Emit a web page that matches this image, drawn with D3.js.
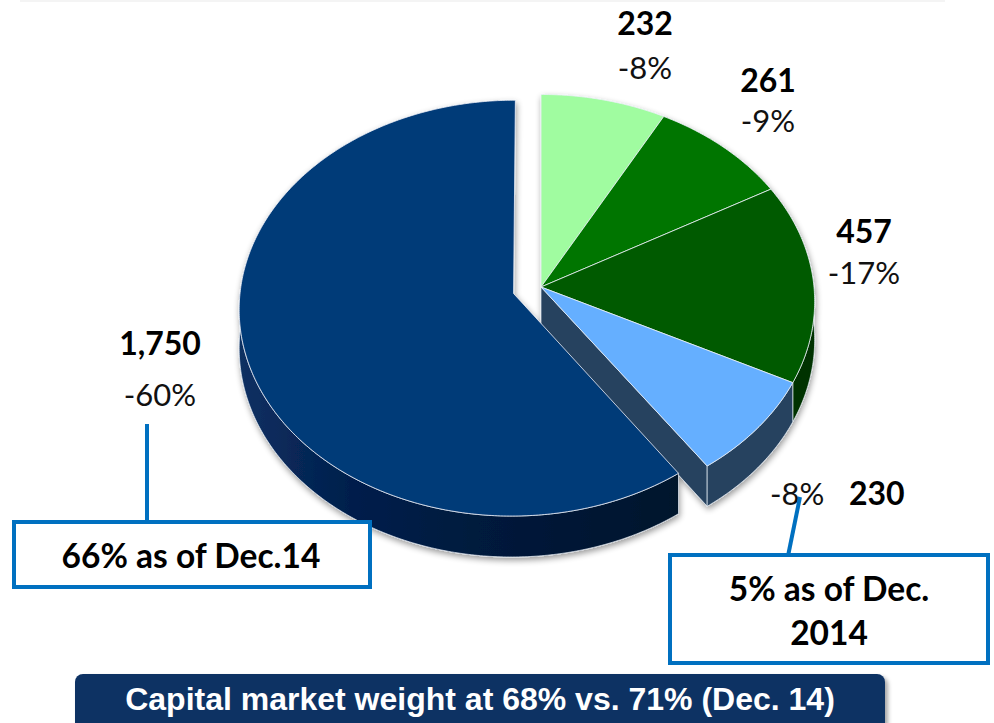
<!DOCTYPE html>
<html>
<head>
<meta charset="utf-8">
<script src="https://cdn.jsdelivr.net/npm/d3@7/dist/d3.min.js"></script>
<style>
  body { margin: 0; background: #fff; }
  svg { display: block; }
  .num { font-family: Lato, "Open Sans", sans-serif; font-weight: 700; font-size: 32px; fill: #000; }
  .chg { font-family: Lato, "Open Sans", sans-serif; font-weight: 400; font-size: 31px; fill: #111; }
  .box-text { font-family: Lato, "Open Sans", sans-serif; font-weight: 700; font-size: 33.5px; fill: #000; }
  .banner-text { font-family: "Liberation Sans", Arial, sans-serif; font-weight: 700; font-size: 32px; fill: #fff; }
</style>
</head>
<body>
<div id="chart"></div>
<script>
// slices clockwise from 12 o'clock
const values = [232, 261, 457, 230, 1750];
const valueLabels = ["232", "261", "457", "230", "1,750"];
const changeLabels = ["-8%", "-9%", "-17%", "-8%", "-60%"];
const exploded = [false, false, false, false, true];
const calloutLeft = ["66% as of Dec.14"];
const calloutRight = ["5% as of Dec.", "2014"];
const bannerText = "Capital market weight at 68% vs. 71% (Dec. 14)";

// styles
const topColors = ["#a0fca0", "#007500", "#005a00", "#65afff", "#063a78"];
const wallColors = ["#5f9f5f", "#004a00", "#003300", "#26425f", "url(#navyWall)"];
const faceColors = ["#5f9f5f", "#004a00", "#003300", "#26425f", "#001a3d"];

// layout
const W = 994, H = 723;
const cx = 541, cy = 287, rx = 273, ry = 206, persp = 0.07, depth = 38, pull = 0.105;
// [x, baseline of number, baseline of change]
const labelPos = [[645, 35, 79], [768, 92, 132], [864, 243, 284], null, [160, 355, 406]];

const svg = d3.select("#chart").append("svg")
    .attr("width", W)
    .attr("height", H);

const defs = svg.append("defs");
const grad = defs.append("linearGradient")
    .attr("id", "navyWall")
    .attr("gradientUnits", "userSpaceOnUse")
    .attr("x1", 240).attr("x2", 680).attr("y1", 0).attr("y2", 0);
grad.append("stop").attr("offset", "0%").attr("stop-color", "#0c3062");
grad.append("stop").attr("offset", "25%").attr("stop-color", "#021f4c");
grad.append("stop").attr("offset", "60%").attr("stop-color", "#00193a");
grad.append("stop").attr("offset", "100%").attr("stop-color", "#00142c");

const shadow = defs.append("filter").attr("id", "shadow")
    .attr("x", "-10%").attr("y", "-10%").attr("width", "120%").attr("height", "120%");
shadow.append("feGaussianBlur").attr("in", "SourceAlpha").attr("stdDeviation", 3).attr("result", "blur");
shadow.append("feOffset").attr("dx", 1).attr("dy", 3).attr("result", "off");
shadow.append("feComponentTransfer").append("feFuncA").attr("type", "linear").attr("slope", 0.4);
const merge = shadow.append("feMerge");
merge.append("feMergeNode");
merge.append("feMergeNode").attr("in", "SourceGraphic");

const bannerShadow = defs.append("filter").attr("id", "bshadow")
    .attr("x", "-5%").attr("y", "-20%").attr("width", "110%").attr("height", "150%");
bannerShadow.append("feDropShadow").attr("dx", 3).attr("dy", 3).attr("stdDeviation", 2)
    .attr("flood-color", "#000").attr("flood-opacity", 0.35);

// faint rule along the top
svg.append("line")
    .attr("x1", 20).attr("x2", 945).attr("y1", 1).attr("y2", 1)
    .attr("stroke", "#f4f4f4").attr("stroke-width", 2);

// ---- 3D pie ----
const arcs = d3.pie().sort(null).startAngle(0).endAngle(2 * Math.PI)(values);
const line = d3.line();

function project(mx, mv, z) {
  const s = 1 / (1 - persp * mv);
  return [cx + mx * rx * s, cy + mv * ry * s + z * s];
}

function offsetOf(d, i) {
  if (!exploded[i]) return [0, 0];
  const mid = (d.startAngle + d.endAngle) / 2;
  return [pull * Math.sin(mid), -pull * Math.cos(mid)];
}

function pt(d, i, a, r, z) {
  const [ox, ov] = offsetOf(d, i);
  return project(ox + r * Math.sin(a), ov - r * Math.cos(a), z);
}

function arcPts(d, i, a0, a1, z) {
  const n = Math.max(2, Math.ceil(Math.abs(a1 - a0) / 0.01));
  return d3.range(n + 1).map(k => pt(d, i, a0 + (a1 - a0) * k / n, 1, z));
}

const n = values.length;
const faces = [], walls = [], tops = [];

arcs.forEach((d, i) => {
  const a0 = d.startAngle, a1 = d.endAngle;
  // radial cut faces, only where a gap opens next to them
  const gapStart = exploded[i] || exploded[(i - 1 + n) % n];
  const gapEnd = exploded[i] || exploded[(i + 1) % n];
  if (gapStart && Math.sin(a0) < -1e-6) {
    faces.push({ i, pts: [pt(d, i, a0, 0, 0), pt(d, i, a0, 1, 0), pt(d, i, a0, 1, depth), pt(d, i, a0, 0, depth)] });
  }
  if (gapEnd && Math.sin(a1) > 1e-6) {
    faces.push({ i, pts: [pt(d, i, a1, 0, 0), pt(d, i, a1, 1, 0), pt(d, i, a1, 1, depth), pt(d, i, a1, 0, depth)] });
  }
  // outer wall on the front half
  const lo = Math.max(a0, Math.PI / 2), hi = Math.min(a1, 3 * Math.PI / 2);
  if (lo < hi) {
    walls.push({ i, pts: arcPts(d, i, lo, hi, 0).concat(arcPts(d, i, hi, lo, depth)) });
  }
  tops.push({ i, pts: [pt(d, i, a0, 0, 0)].concat(arcPts(d, i, a0, a1, 0)) });
});

const order = (a, b) => (exploded[a.i] ? 1 : 0) - (exploded[b.i] ? 1 : 0);
walls.sort(order);
tops.sort(order);

const pie = svg.append("g").attr("filter", "url(#shadow)");

pie.selectAll(".face").data(faces).enter().append("path")
    .attr("class", "face")
    .attr("d", f => line(f.pts) + "Z")
    .attr("fill", f => faceColors[f.i])
    .attr("stroke", "rgba(230,236,245,0.7)")
    .attr("stroke-width", 1)
    .attr("stroke-linejoin", "round");

pie.selectAll(".wall").data(walls).enter().append("path")
    .attr("class", "wall")
    .attr("d", w => line(w.pts) + "Z")
    .attr("fill", w => wallColors[w.i])
    .attr("stroke", "rgba(230,236,245,0.7)")
    .attr("stroke-width", 1)
    .attr("stroke-linejoin", "round");

pie.selectAll(".top").data(tops).enter().append("path")
    .attr("class", "top")
    .attr("d", t => line(t.pts) + "Z")
    .attr("fill", t => topColors[t.i])
    .attr("stroke", "rgba(235,240,248,0.8)")
    .attr("stroke-width", 1)
    .attr("stroke-linejoin", "round");

// ---- data labels ----
const labels = svg.append("g");
valueLabels.forEach((lab, i) => {
  const p = labelPos[i];
  if (!p) return;
  labels.append("text").attr("class", "num")
      .attr("x", p[0]).attr("y", p[1]).attr("text-anchor", "middle").text(lab);
  labels.append("text").attr("class", "chg")
      .attr("x", p[0]).attr("y", p[2]).attr("text-anchor", "middle").text(changeLabels[i]);
});
// light blue slice: change and value on one line
labels.append("text").attr("class", "chg")
    .attr("x", 770).attr("y", 505).text(changeLabels[3]);
labels.append("text").attr("class", "num")
    .attr("x", 849).attr("y", 505).text(valueLabels[3]);

// ---- callouts ----
const blue = "#0070c0";
const callouts = svg.append("g");

callouts.append("line")
    .attr("x1", 147).attr("y1", 424).attr("x2", 147).attr("y2", 522)
    .attr("stroke", blue).attr("stroke-width", 4);
callouts.append("rect")
    .attr("x", 14).attr("y", 522).attr("width", 356).attr("height", 65)
    .attr("fill", "#fff").attr("stroke", blue).attr("stroke-width", 4);
calloutLeft.forEach((t, k) => {
  callouts.append("text").attr("class", "box-text")
      .attr("x", 191).attr("y", 568 + k * 44).attr("text-anchor", "middle").text(t);
});

callouts.append("line")
    .attr("x1", 800).attr("y1", 497).attr("x2", 788).attr("y2", 556)
    .attr("stroke", blue).attr("stroke-width", 4);
callouts.append("rect")
    .attr("x", 670).attr("y", 555).attr("width", 318).attr("height", 108)
    .attr("fill", "#fff").attr("stroke", blue).attr("stroke-width", 4);
calloutRight.forEach((t, k) => {
  callouts.append("text").attr("class", "box-text")
      .attr("x", 829).attr("y", 601 + k * 44).attr("text-anchor", "middle").text(t);
});

// ---- banner ----
svg.append("rect")
    .attr("x", 75).attr("y", 674).attr("width", 810).attr("height", 70)
    .attr("rx", 8)
    .attr("fill", "#0b3063")
    .attr("filter", "url(#bshadow)");
svg.append("text").attr("class", "banner-text")
    .attr("x", 480).attr("y", 710).attr("text-anchor", "middle")
    .text(bannerText);
</script>
</body>
</html>
